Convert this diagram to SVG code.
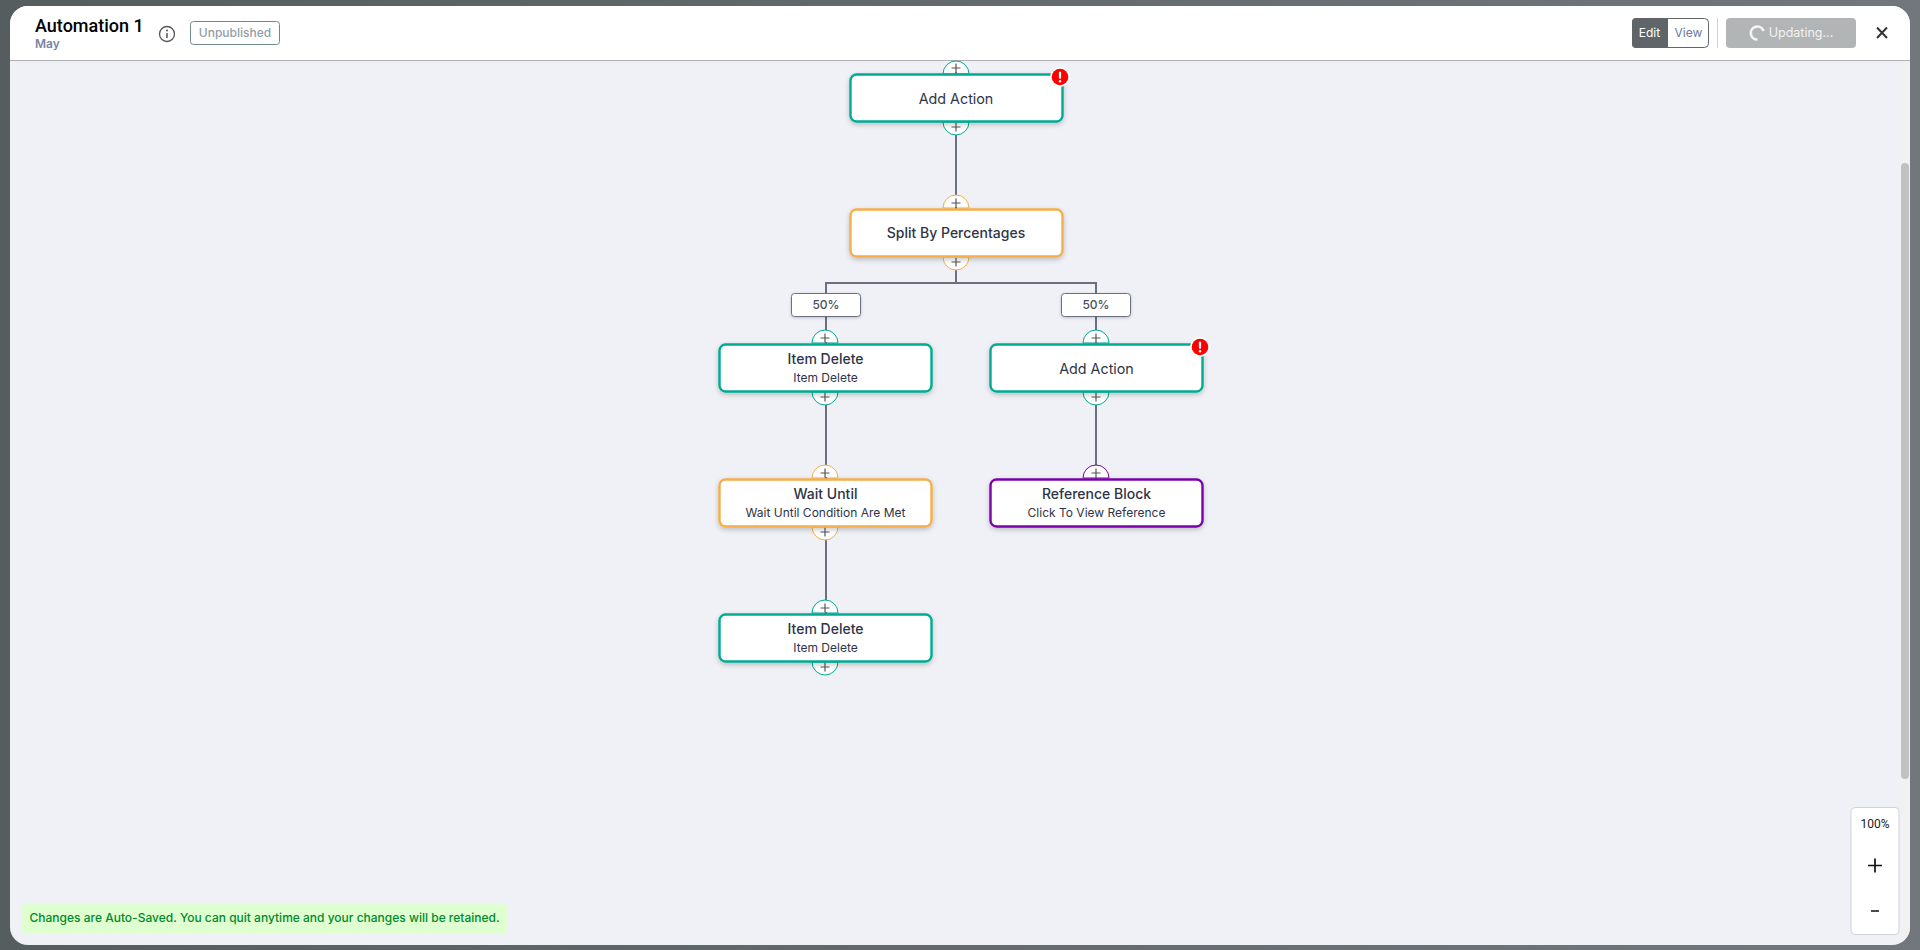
<svg xmlns="http://www.w3.org/2000/svg" width="1920" height="950" viewBox="0 0 1920 950">
<style>
text{font-family:Inter,"Noto Sans",sans-serif;fill:#2f3447;text-anchor:middle}
.node{fill:#fff;stroke-width:2.400}
.teal{stroke:#00ab94}.orange{stroke:#f5ae4a}.purple{stroke:#7e00ac}
.port{fill:#fff;stroke-width:1}
.plus{stroke:#555;stroke-width:1.200;fill:none}
.conn{stroke:#6b7080;stroke-width:2;fill:none}
.stub{stroke:#6b7080;stroke-width:2;fill:none}
.t{font-size:14px;font-weight:500}
.a{font-size:14.300px;font-weight:400}
.s{font-size:12px}
.pct{font-size:12px;font-weight:500;fill:#4a4f5e}
.lab{fill:#fff;stroke:#6b7080;stroke-width:1}
</style>
<defs>
<linearGradient id="bg" x1="0" x2="1" y1="0" y2="0"><stop offset="0" stop-color="#555d5e"/><stop offset="1" stop-color="#72777d"/></linearGradient>
<filter id="sh" x="-10%" y="-20%" width="120%" height="150%"><feDropShadow dx="0" dy="2" stdDeviation="2.500" flood-color="#000" flood-opacity=".22"/></filter>
<filter id="sh2" x="-20%" y="-30%" width="140%" height="170%"><feDropShadow dx="0" dy="1" stdDeviation="1.500" flood-color="#000" flood-opacity=".2"/></filter>
<g id="plus"><path class="plus" d="M-4.500 0H4.500M0-4.500V4.500"/></g>
<g id="err"><circle r="10" fill="#fff"/><circle r="8.300" fill="#f00"/><path d="M0-4.500V0.800" stroke="#fff" stroke-width="2.200" stroke-linecap="round"/><circle cy="4.300" r="1.200" fill="#fff"/></g>
</defs>
<rect width="1920" height="950" fill="url(#bg)"/>
<rect id="panel" x="10" y="6" width="1900" height="939" rx="18" fill="#f0f1f6"/>
<path d="M1901 61h9v866a18 18 0 0 1-9 15.600z" fill="#f1f1f2"/>
<rect x="1901" y="163" width="8" height="616" rx="4" fill="#c1c1c1"/>

<g id="header">
<path d="M10 60V24a18 18 0 0 1 18-18H1892a18 18 0 0 1 18 18V60z" fill="#fff"/>
<rect x="10" y="60" width="1900" height="1" fill="#b0b1b3"/>
<text x="35" y="32" style="text-anchor:start;font-family:Roboto,sans-serif;font-size:18px;font-weight:500;fill:#000">Automation 1</text>
<text x="35" y="48" style="text-anchor:start;font-size:12px;font-weight:600;fill:#7a86a0">May</text>
<circle cx="167" cy="34" r="7.500" fill="none" stroke="#555" stroke-width="1.300"/>
<path d="M167 33v5" stroke="#555" stroke-width="1.500"/><circle cx="167" cy="30.500" r="1" fill="#555"/>
<rect x="190.500" y="21.500" width="89" height="23" rx="3" fill="#fff" stroke="#6f8a8a"/>
<text x="235" y="37" style="font-size:12px;font-weight:500;fill:#8fa0a8">Unpublished</text>
<rect x="1632.500" y="18.500" width="76" height="29" rx="4" fill="#fff" stroke="#5f6568"/>
<path d="M1668 18H1636a4 4 0 0 0-4 4V44a4 4 0 0 0 4 4H1668z" fill="#5f6568"/>
<text x="1649.500" y="37" style="font-size:12px;fill:#fff">Edit</text>
<text x="1688.500" y="37" style="font-size:12px;fill:#6b7a99">View</text>
<rect x="1717" y="18" width="1" height="30" fill="#cfd1d2"/>
<rect x="1726" y="18" width="130" height="30" rx="4" fill="#b1b5b5"/>
<path d="M1763.500 31A6.500 6.500 0 1 0 1757.500 39.500" fill="none" stroke="#f4f5f5" stroke-width="2.600"/>
<text x="1801" y="37" style="font-size:12.500px;fill:#f2f3f3">Updating...</text>
<path d="M1877 27.500L1887 38M1887 27.500L1877 38" stroke="#333" stroke-width="2" fill="none"/>
</g>

<g id="connectors">
<path class="conn" d="M956 122V208"/>
<path class="conn" d="M956 257V283M826 303V283H1096V303"/>
<path class="conn" d="M826 317V343"/>
<path class="conn" d="M1096 317V343"/>
<path class="conn" d="M826 392V478"/>
<path class="conn" d="M826 527V613"/>
<path class="conn" d="M1096 392V478"/>
</g>

<g id="label-left"><rect class="lab" x="791.500" y="293.500" width="69" height="23" rx="3" filter="url(#sh2)"/><text class="pct" x="826" y="309">50%</text></g>
<g id="label-right"><rect class="lab" x="1061.500" y="293.500" width="69" height="23" rx="3" filter="url(#sh2)"/><text class="pct" x="1096" y="309">50%</text></g>

<g id="node-add-action-1">
<path class="port teal" d="M943 74a13 13 0 0 1 26 0z"/><use href="#plus" x="956" y="68"/>
<path class="stub" d="M956 72V75"/>
<path class="port teal" d="M943 122a13 13 0 0 0 26 0z"/><use href="#plus" x="956" y="127"/>
<rect class="node teal" x="850.500" y="74.500" width="212" height="47" rx="6" filter="url(#sh)"/>
<text class="a" x="956" y="104">Add Action</text>
<use href="#err" x="1060" y="77"/>
</g>
<g id="node-split">
<path class="port orange" d="M943 208a13 13 0 0 1 26 0z"/><use href="#plus" x="956" y="203"/>
<path class="stub" d="M956 207V210"/>
<path class="port orange" d="M943 257a13 13 0 0 0 26 0z"/><use href="#plus" x="956" y="262"/>
<rect class="node orange" x="850.500" y="209.500" width="212" height="47" rx="6" filter="url(#sh)"/>
<text class="t" x="956" y="238">Split By Percentages</text>
</g>
<g id="node-item-delete-1">
<path class="port teal" d="M812 343a13 13 0 0 1 26 0z"/><use href="#plus" x="825" y="338"/>
<path class="stub" d="M826 342V345"/>
<path class="port teal" d="M812 392a13 13 0 0 0 26 0z"/><use href="#plus" x="825" y="397"/>
<rect class="node teal" x="719.500" y="344.500" width="212" height="47" rx="6" filter="url(#sh)"/>
<text class="t" x="825.500" y="364">Item Delete</text><text class="s" x="825.500" y="382">Item Delete</text>
</g>
<g id="node-add-action-2">
<path class="port teal" d="M1083 343a13 13 0 0 1 26 0z"/><use href="#plus" x="1096" y="338"/>
<path class="stub" d="M1096 342V345"/>
<path class="port teal" d="M1083 392a13 13 0 0 0 26 0z"/><use href="#plus" x="1096" y="397"/>
<rect class="node teal" x="990.500" y="344.500" width="212" height="47" rx="6" filter="url(#sh)"/>
<text class="a" x="1096.500" y="374">Add Action</text>
<use href="#err" x="1200" y="347"/>
</g>
<g id="node-wait-until">
<path class="port orange" d="M812 478a13 13 0 0 1 26 0z"/><use href="#plus" x="825" y="473"/>
<path class="stub" d="M826 477V480"/>
<path class="port orange" d="M812 527a13 13 0 0 0 26 0z"/><use href="#plus" x="825" y="532"/>
<rect class="node orange" x="719.500" y="479.500" width="212" height="47" rx="6" filter="url(#sh)"/>
<text class="t" x="825.500" y="499">Wait Until</text><text class="s" x="825.500" y="517">Wait Until Condition Are Met</text>
</g>
<g id="node-reference">
<path class="port purple" d="M1083 478a13 13 0 0 1 26 0z"/><use href="#plus" x="1096" y="473"/>
<path class="stub" d="M1096 477V480"/>
<rect class="node purple" x="990.500" y="479.500" width="212" height="47" rx="6" filter="url(#sh)"/>
<text class="t" x="1096.500" y="499">Reference Block</text><text class="s" x="1096.500" y="517">Click To View Reference</text>
</g>
<g id="node-item-delete-2">
<path class="port teal" d="M812 613a13 13 0 0 1 26 0z"/><use href="#plus" x="825" y="608"/>
<path class="stub" d="M826 612V615"/>
<path class="port teal" d="M812 662a13 13 0 0 0 26 0z"/><use href="#plus" x="825" y="667"/>
<rect class="node teal" x="719.500" y="614.500" width="212" height="47" rx="6" filter="url(#sh)"/>
<text class="t" x="825.500" y="634">Item Delete</text><text class="s" x="825.500" y="652">Item Delete</text>
</g>

<g id="autosave">
<rect x="22" y="904" width="485" height="30" rx="4" fill="#dfffd0"/>
<text x="29.500" y="922" style="text-anchor:start;font-size:12px;font-weight:500;fill:#00892c">Changes are Auto-Saved. You can quit anytime and your changes will be retained.</text>
</g>
<g id="zoom">
<rect x="1851" y="807.500" width="48" height="127" rx="4" fill="#fff" stroke="#d2d3d8"/>
<text x="1875" y="828" style="font-family:Roboto,sans-serif;font-size:12px;fill:#1a1a2a">100%</text>
<path d="M1868 865.500H1882M1875 858.500V872.500M1871 911H1879" stroke="#111" stroke-width="1.700" fill="none"/>
</g>
</svg>
